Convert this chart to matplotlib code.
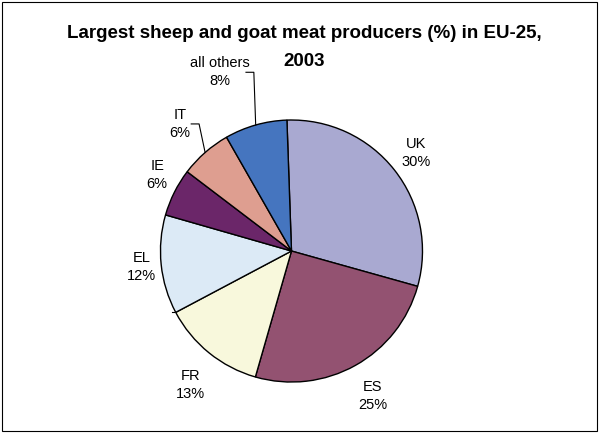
import numpy as np
import matplotlib.pyplot as plt
from matplotlib.patches import Rectangle

plt.rcParams['font.family'] = ['Liberation Sans', 'DejaVu Sans']

countries = ["UK", "ES", "FR", "EL", "IE", "IT", "all others"]
shares = [29.9, 25.1, 12.8, 12.2, 5.9, 6.4, 7.7]
colors = ["#a9a9d1", "#935271", "#f8f8dc", "#dceaf6", "#6b2669", "#de9e90", "#4575bf"]
title_lines = ["Largest sheep and goat meat producers (%) in EU-25,", "2003"]

# label placement: distance from centre (radii) and angle nudge (deg)
lab_dist = [1.21, 1.27, 1.28, 1.15, 1.18, 1.29, 1.47]
lab_turn = [0, 0, 2, 0, -3, 0, 6]
# elbow leaders for the two small slices at the top
leader = {"IT": 0.145, "all others": 0.26}

fig = plt.figure(figsize=(6, 4.33), dpi=100)
ax = fig.add_axes([0, 0, 1, 1])
wedges, _ = ax.pie(shares, colors=colors, startangle=92, counterclock=False,
                   wedgeprops=dict(edgecolor="black", linewidth=1.0))
ax.set_xlim(-2.225, 2.355)
ax.set_ylim(-1.389, 1.916)
ax.set_aspect("auto")
ax.axis("off")

for w, name, v, d, t in zip(wedges, countries, shares, lab_dist, lab_turn):
    mid = np.deg2rad((w.theta1 + w.theta2) / 2)
    ang = mid + np.deg2rad(t)
    x, y = d * np.cos(ang), d * np.sin(ang)
    ax.text(x, y, f"{name}\n{v:.0f}%", ha="center", va="center",
            fontsize=10.5, linespacing=1.35)
    if name in leader:
        ex = x + leader[name]
        ax.plot([np.cos(mid), ex, ex - 0.06], [np.sin(mid), y, y],
                color="black", lw=0.8)

# stray leader tick left over at the FR / EL edge
a = np.deg2rad(wedges[2].theta1)
ax.plot([np.cos(a) - 0.03, np.cos(a) - 0.01], [np.sin(a)] * 2, color="black", lw=0.8)

fig.text(0.507, 0.913, title_lines[0], ha="center", va="baseline",
         fontsize=13.5, fontweight="bold")
fig.text(0.507, 0.848, title_lines[1], ha="center", va="baseline",
         fontsize=13.5, fontweight="bold")

fig.patches.append(Rectangle((0.004, 0.005), 0.991, 0.99, transform=fig.transFigure,
                             fill=False, edgecolor="black", lw=0.8))

fig.savefig("out.png", dpi=100)
